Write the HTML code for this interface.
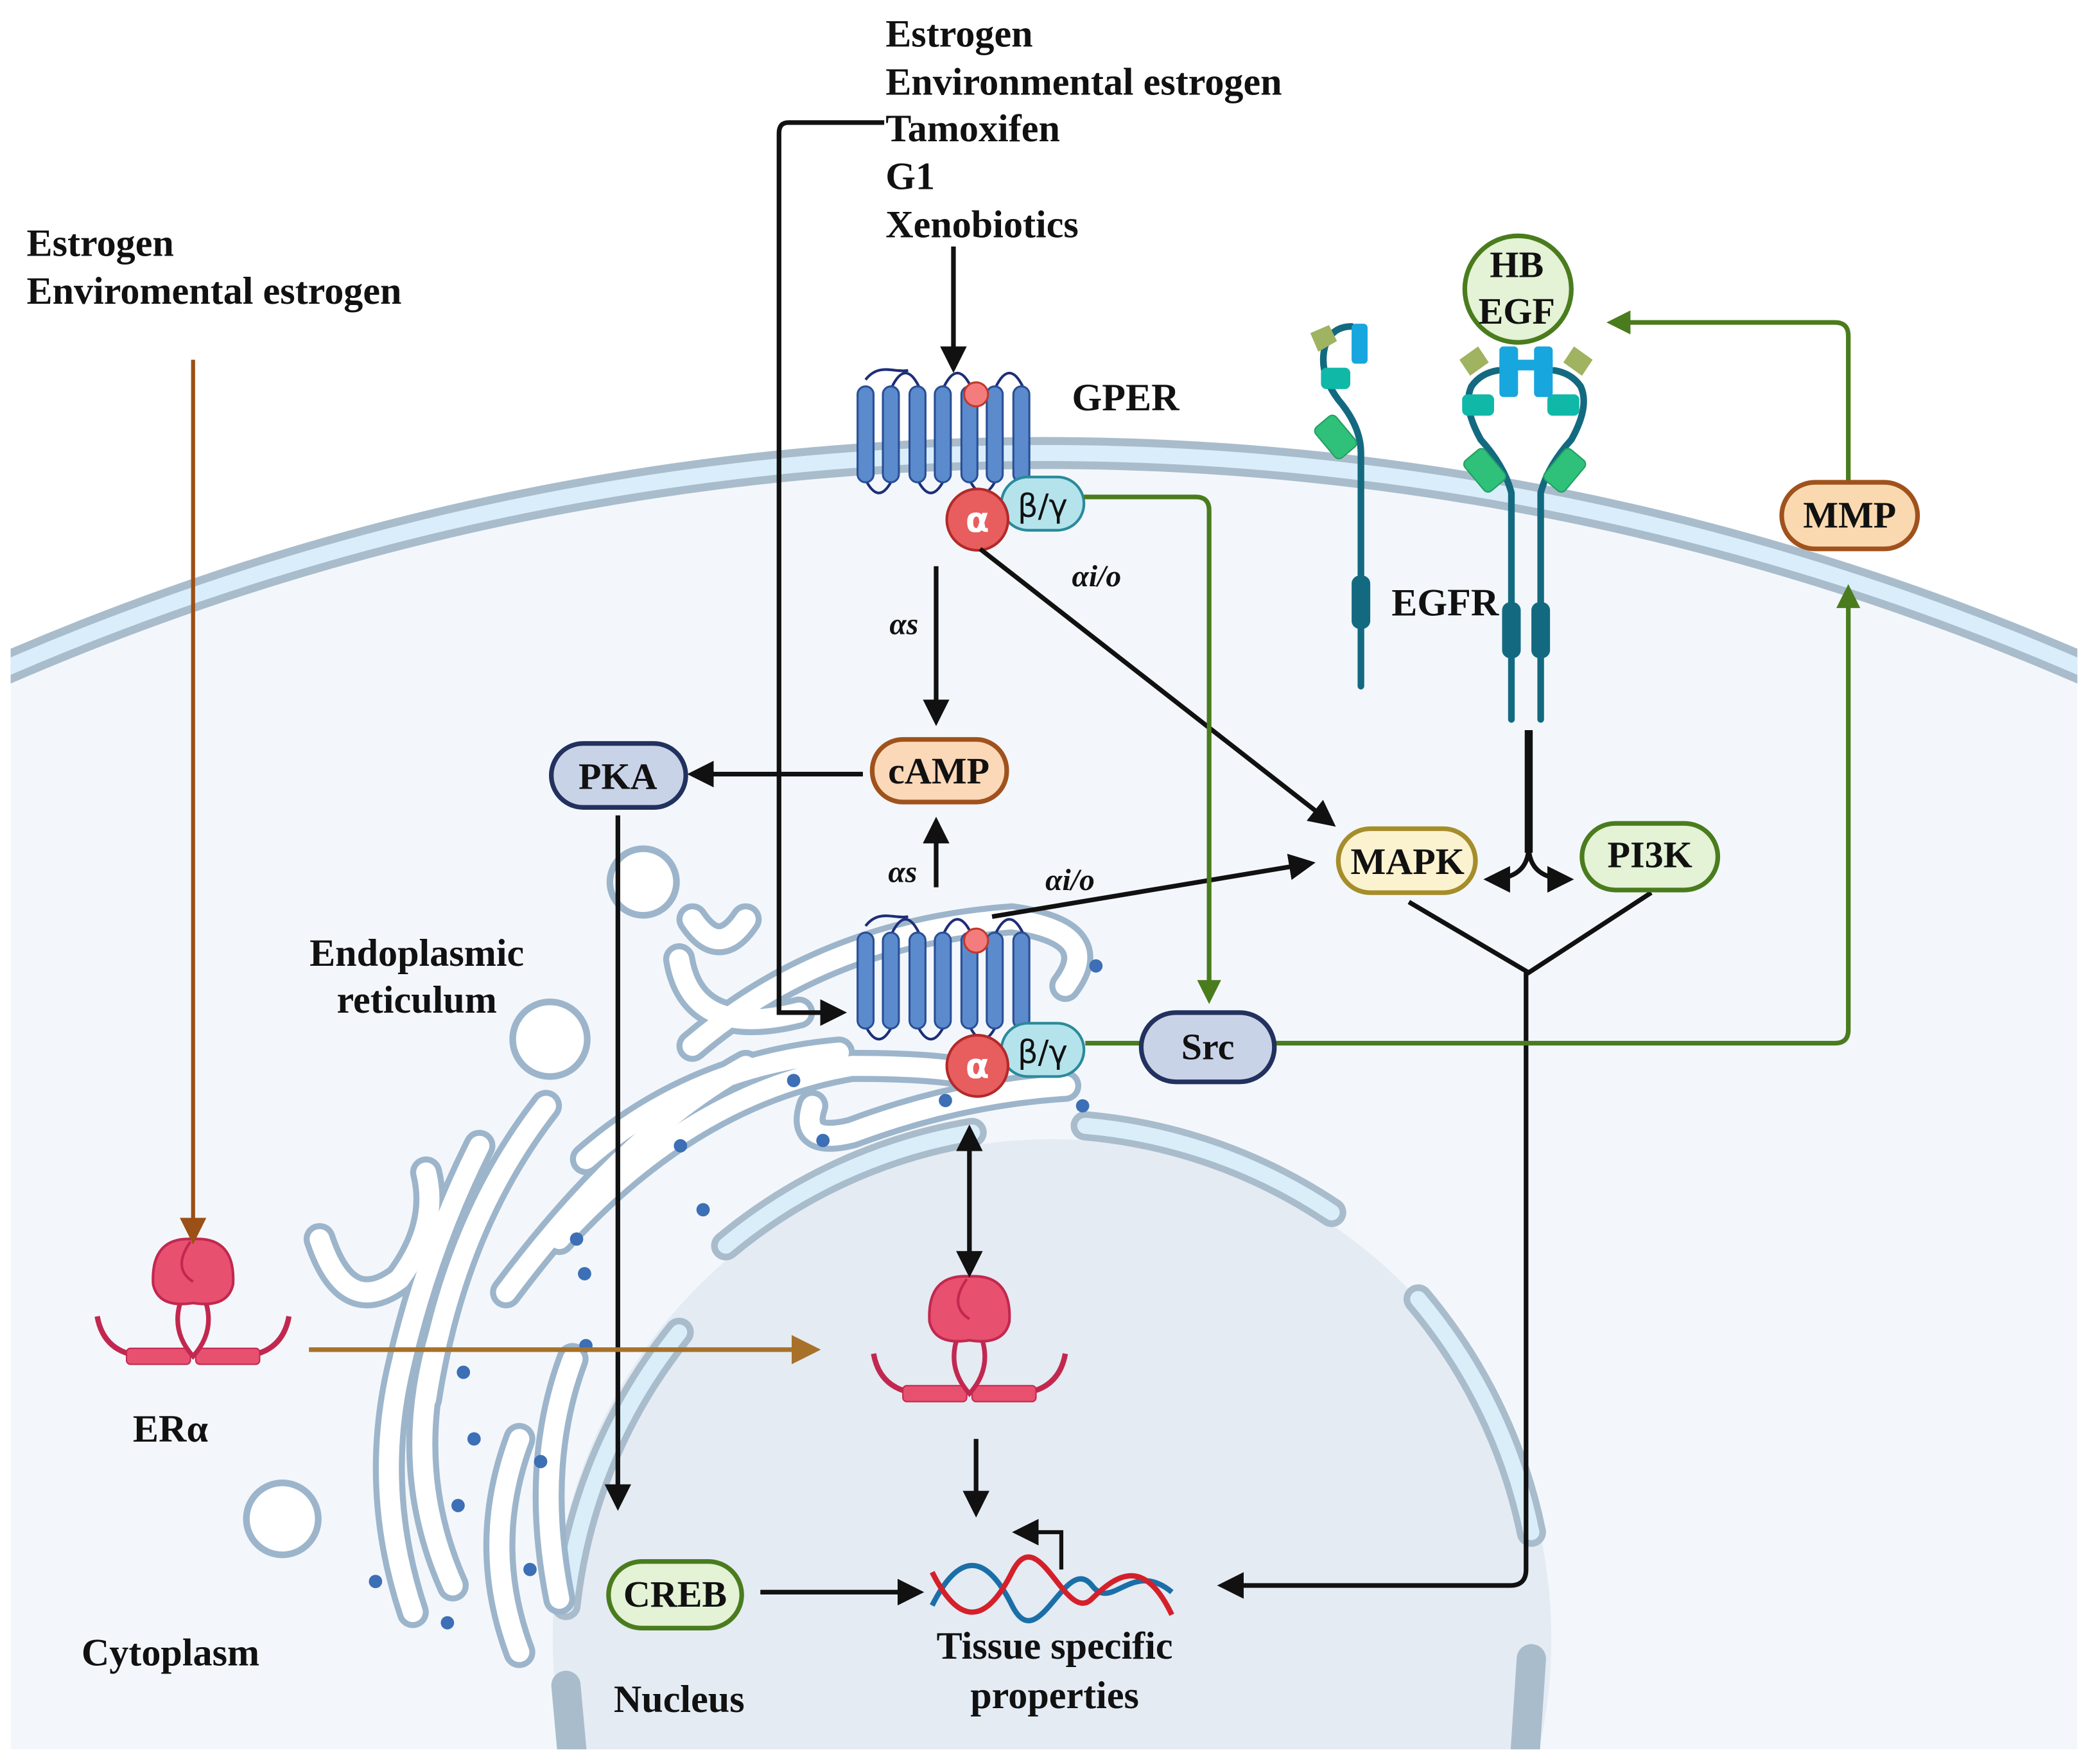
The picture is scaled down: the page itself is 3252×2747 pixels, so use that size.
<!DOCTYPE html>
<html><head><meta charset="utf-8"><style>
html,body{margin:0;padding:0;background:#fff;width:3252px;height:2747px;overflow:hidden}
svg{display:block}
text{font-family:"Liberation Serif",serif;fill:#111}
</style></head><body>
<svg width="3252" height="2747" viewBox="0 0 1568 1324" preserveAspectRatio="none" xmlns="http://www.w3.org/2000/svg">
<defs>
<clipPath id="cl"><rect x="8" y="0" width="1552" height="1313"/></clipPath>
<marker id="a" viewBox="0 0 10 10" refX="8" refY="5" markerWidth="20" markerHeight="20" orient="auto-start-reverse" markerUnits="userSpaceOnUse"><path d="M0,0L10,5L0,10z" fill="#111"/></marker>
<marker id="ag" viewBox="0 0 10 10" refX="8" refY="5" markerWidth="18" markerHeight="18" orient="auto" markerUnits="userSpaceOnUse"><path d="M0,0L10,5L0,10z" fill="#4a7c1e"/></marker>
<marker id="ab" viewBox="0 0 10 10" refX="8" refY="5" markerWidth="20" markerHeight="20" orient="auto" markerUnits="userSpaceOnUse"><path d="M0,0L10,5L0,10z" fill="#9c4f16"/></marker>
<marker id="ao" viewBox="0 0 10 10" refX="8" refY="5" markerWidth="22" markerHeight="22" orient="auto" markerUnits="userSpaceOnUse"><path d="M0,0L10,5L0,10z" fill="#a8712a"/></marker>
<g id="gper">
 <path d="M650,285 C660,272 672,280 682,278" fill="none" stroke="#1d2e78" stroke-width="2"/>
 <path d="M650,360 q10,20 20,0 M689,360 q10,20 20,0 M728,360 q10,20 20,0 M670,290 q10,-20 20,0 M709,290 q10,-20 20,0 M748,290 q10,-20 20,0" fill="none" stroke="#1d2e78" stroke-width="2"/>
 <g fill="#5b8bcc" stroke="#2a4f96" stroke-width="1.5">
  <rect x="644" y="290" width="12" height="72" rx="6"/><rect x="663" y="290" width="12" height="72" rx="6"/><rect x="683" y="290" width="12" height="72" rx="6"/><rect x="702" y="290" width="12" height="72" rx="6"/><rect x="722" y="290" width="12" height="72" rx="6"/><rect x="741" y="290" width="12" height="72" rx="6"/><rect x="761" y="290" width="12" height="72" rx="6"/>
 </g>
 <circle cx="733" cy="296" r="9" fill="#f47c7c" stroke="#c0392b" stroke-width="1.5"/>
 <rect x="752" y="358" width="62" height="40" rx="20" fill="#b4e3ec" stroke="#2a8a9a" stroke-width="2"/>
 <text x="783" y="388" font-size="24" text-anchor="middle" style="font-family:'DejaVu Sans',sans-serif">β/γ</text>
 <circle cx="734" cy="390" r="23" fill="#e85d5d" stroke="#b22a2a" stroke-width="2"/>
 <text x="734" y="399" font-size="26" text-anchor="middle" style="fill:#fff;font-family:'DejaVu Sans',sans-serif;font-weight:bold">α</text>
</g>
<g id="era">
 <path d="M-72,0 q5,28 35,30 M72,0 q-5,28 -35,30" fill="none" stroke="#c2284f" stroke-width="4"/>
 <rect x="-50" y="24" width="48" height="12" rx="3" fill="#e8506f" stroke="#c2284f"/>
 <rect x="2" y="24" width="48" height="12" rx="3" fill="#e8506f" stroke="#c2284f"/>
 <path d="M-8,-15 q-10,25 8,45 q18,-20 8,-45" fill="none" stroke="#c2284f" stroke-width="3.5"/>
 <path d="M-30,-24 q-2,-36 30,-34 q32,-2 30,34 q-4,18 -30,14 q-26,4 -30,-14z" fill="#e8506f" stroke="#c2284f" stroke-width="2"/>
 <path d="M-2,-56 q-14,20 2,30" fill="none" stroke="#c2284f" stroke-width="2"/>
</g>
</defs>

<g clip-path="url(#cl)">
 <circle cx="784" cy="2302" r="1962" fill="#f3f7fb"/>
 <circle cx="784" cy="2302" r="1962" fill="none" stroke="#a9bccb" stroke-width="24"/>
 <circle cx="784" cy="2302" r="1962" fill="none" stroke="#d9eefa" stroke-width="12"/>
 <circle cx="790" cy="1230" r="375" fill="#e4ebf3"/>
 <g fill="none" stroke-linecap="round">
  <path d="M545,935 A390,390 0 0 1 730,850" stroke="#a9bccb" stroke-width="22"/>
  <path d="M545,935 A390,390 0 0 1 730,850" stroke="#daeefa" stroke-width="12"/>
  <path d="M815,845 A395,395 0 0 1 1000,910" stroke="#a9bccb" stroke-width="22"/>
  <path d="M815,845 A395,395 0 0 1 1000,910" stroke="#daeefa" stroke-width="12"/>
  <path d="M1065,975 A395,395 0 0 1 1150,1150" stroke="#a9bccb" stroke-width="22"/>
  <path d="M1065,975 A395,395 0 0 1 1150,1150" stroke="#daeefa" stroke-width="12"/>
  <path d="M510,1000 A395,395 0 0 0 425,1205" stroke="#a9bccb" stroke-width="22"/>
  <path d="M510,1000 A395,395 0 0 0 425,1205" stroke="#daeefa" stroke-width="12"/>
  <path d="M425,1265 L430,1320" stroke="#a9bccb" stroke-width="22"/>
  <path d="M1150,1245 L1145,1320" stroke="#a9bccb" stroke-width="22"/>
 </g>
 <g fill="none" stroke-linecap="round">
  <g stroke="#9db5cb" stroke-width="24">
   <path d="M520,785 Q620,700 760,690 Q830,700 800,740"/>
   <path d="M440,870 Q520,800 630,790"/>
   <path d="M420,930 Q520,820 640,800 Q720,800 740,810"/>
   <path d="M380,970 Q470,850 560,800"/>
   <path d="M330,1000 Q300,1100 340,1190"/>
   <path d="M360,860 Q320,940 300,1030 Q280,1120 310,1210"/>
   <path d="M410,830 Q340,920 320,1050"/>
   <path d="M390,1080 Q360,1160 390,1240"/>
   <path d="M430,1020 Q400,1100 420,1200"/>
   <path d="M240,930 Q260,990 300,960 Q330,920 320,880"/>
   <path d="M560,690 Q540,720 520,690"/>
   <path d="M510,720 Q520,780 600,760"/>
   <path d="M610,830 Q600,860 640,850 Q720,820 800,815"/>
  </g>
  <g stroke="#ffffff" stroke-width="15">
   <path d="M520,785 Q620,700 760,690 Q830,700 800,740"/>
   <path d="M440,870 Q520,800 630,790"/>
   <path d="M420,930 Q520,820 640,800 Q720,800 740,810"/>
   <path d="M380,970 Q470,850 560,800"/>
   <path d="M330,1000 Q300,1100 340,1190"/>
   <path d="M360,860 Q320,940 300,1030 Q280,1120 310,1210"/>
   <path d="M410,830 Q340,920 320,1050"/>
   <path d="M390,1080 Q360,1160 390,1240"/>
   <path d="M430,1020 Q400,1100 420,1200"/>
   <path d="M240,930 Q260,990 300,960 Q330,920 320,880"/>
   <path d="M560,690 Q540,720 520,690"/>
   <path d="M510,720 Q520,780 600,760"/>
   <path d="M610,830 Q600,860 640,850 Q720,820 800,815"/>
  </g>
 </g>
 <g fill="#fff" stroke="#9db5cb" stroke-width="5">
  <circle cx="483" cy="662" r="25"/><circle cx="413" cy="780" r="28"/><circle cx="212" cy="1140" r="27"/>
 </g>
 <g fill="#3c6fb5">
  <circle cx="823" cy="725" r="5"/><circle cx="710" cy="826" r="5"/><circle cx="813" cy="830" r="5"/><circle cx="596" cy="811" r="5"/><circle cx="618" cy="856" r="5"/><circle cx="511" cy="860" r="5"/><circle cx="528" cy="908" r="5"/><circle cx="433" cy="930" r="5"/><circle cx="439" cy="956" r="5"/><circle cx="440" cy="1010" r="5"/><circle cx="348" cy="1030" r="5"/><circle cx="356" cy="1080" r="5"/><circle cx="406" cy="1097" r="5"/><circle cx="344" cy="1130" r="5"/><circle cx="398" cy="1178" r="5"/><circle cx="282" cy="1187" r="5"/><circle cx="336" cy="1218" r="5"/>
 </g>
</g>

<g font-size="29" font-weight="bold">
 <text x="665" y="35">Estrogen</text>
 <text x="665" y="71">Environmental estrogen</text>
 <text x="665" y="106">Tamoxifen</text>
 <text x="665" y="142">G1</text>
 <text x="665" y="178">Xenobiotics</text>
 <text x="20" y="192">Estrogen</text>
 <text x="20" y="228">Enviromental estrogen</text>
 <text x="805" y="308">GPER</text>
 <text x="1045" y="462">EGFR</text>
 <text x="313" y="725" text-anchor="middle">Endoplasmic</text>
 <text x="313" y="760" text-anchor="middle">reticulum</text>
 <text x="128" y="1082" text-anchor="middle">ERα</text>
 <text x="128" y="1250" text-anchor="middle">Cytoplasm</text>
 <text x="510" y="1285" text-anchor="middle">Nucleus</text>
 <text x="792" y="1245" text-anchor="middle">Tissue specific</text>
 <text x="792" y="1282" text-anchor="middle">properties</text>
</g>
<g font-size="23" font-style="italic" font-weight="bold">
 <text x="668" y="476">αs</text>
 <text x="805" y="440">αi/o</text>
 <text x="667" y="662">αs</text>
 <text x="785" y="668">αi/o</text>
</g>

<g fill="none" stroke="#136a80" stroke-width="5" stroke-linecap="round">
 <path d="M1022,515 L1022,340 Q1022,320 1005,300 Q990,280 995,260 Q1000,245 1015,245"/>
 <path d="M1135,540 L1135,370 Q1130,350 1112,330 Q1098,305 1105,290 Q1112,280 1125,278"/>
 <path d="M1157,540 L1157,370 Q1162,350 1180,330 Q1194,305 1187,290 Q1180,280 1167,278"/>
</g>
<g fill="#136a80"><rect x="1015" y="432" width="14" height="40" rx="6"/><rect x="1128" y="452" width="14" height="42" rx="6"/><rect x="1150" y="452" width="14" height="42" rx="6"/></g>
<g fill="#2fc07a" stroke="#22a060" stroke-width="1">
 <rect x="993" y="313" width="20" height="30" rx="4" transform="rotate(-40 1003 328)"/>
 <rect x="1105" y="338" width="20" height="30" rx="4" transform="rotate(-40 1115 353)"/>
 <rect x="1165" y="338" width="20" height="30" rx="4" transform="rotate(40 1175 353)"/>
</g>
<g fill="#10b8a8"><rect x="992" y="276" width="22" height="16" rx="4"/><rect x="1098" y="296" width="24" height="16" rx="4"/><rect x="1162" y="296" width="24" height="16" rx="4"/></g>
<g fill="#17a6dd"><rect x="1015" y="243" width="12" height="30" rx="3"/><rect x="1126" y="260" width="14" height="38" rx="3"/><rect x="1152" y="260" width="14" height="38" rx="3"/><rect x="1126" y="270" width="40" height="8"/></g>
<g fill="#9fb360"><path d="M984,250 l14,-6 l6,12 l-14,8z"/><path d="M1096,270 l14,-10 l8,12 l-14,10z"/><path d="M1196,270 l-14,-10 l-8,12 l14,10z"/></g>

<use href="#gper"/>
<use href="#gper" transform="translate(0,410)"/>

<use href="#era" transform="translate(145,988)"/>
<use href="#era" transform="translate(728,1016)"/>

<g fill="none" stroke="#111" stroke-width="3.5">
 <path d="M664,92 L592,92 Q585,92 585,100 L585,760 L632,760" marker-end="url(#a)"/>
 <path d="M716,185 L716,276" marker-end="url(#a)"/>
 <path d="M703,425 L703,541" marker-end="url(#a)"/>
 <path d="M736,412 L1000,618" marker-end="url(#a)"/>
 <path d="M648,581 L520,581" marker-end="url(#a)"/>
 <path d="M703,666 L703,617" marker-end="url(#a)"/>
 <path d="M745,688 L984,648" marker-end="url(#a)"/>
 <path d="M464,612 L464,1130" marker-end="url(#a)"/>
 <path d="M728,848 L728,955" marker-end="url(#a)" marker-start="url(#a)"/>
 <path d="M733,1080 L733,1135" marker-end="url(#a)"/>
 <path d="M571,1195 L690,1195" marker-end="url(#a)"/>
 <path d="M1058,677 L1148,730 L1240,670 M1146,730 L1146,1178 Q1146,1190 1134,1190 L918,1190" marker-end="url(#a)"/>
 <path d="M1148,548 L1148,640" stroke-width="6"/>
 <path d="M1148,635 Q1148,660 1118,660" marker-end="url(#a)"/>
 <path d="M1148,635 Q1148,660 1178,660" marker-end="url(#a)"/>
 <path d="M797,1178 L797,1150 L764,1150" stroke-width="3" marker-end="url(#a)"/>
</g>
<g fill="none" stroke="#4a7c1e" stroke-width="3.5">
 <path d="M814,373 L898,373 Q908,373 908,383 L908,750" marker-end="url(#ag)"/>
 <path d="M815,783 L857,783 M957,783 L1378,783 Q1388,783 1388,773 L1388,442" marker-end="url(#ag)"/>
 <path d="M1388,362 L1388,252 Q1388,242 1378,242 L1210,242" marker-end="url(#ag)"/>
</g>
<path d="M145,270 L145,930" stroke="#9c4f16" stroke-width="3" fill="none" marker-end="url(#ab)"/>
<path d="M232,1013 L612,1013" stroke="#a8712a" stroke-width="3.5" fill="none" marker-end="url(#ao)"/>

<g fill="none" stroke-width="4">
 <path d="M700,1205 C720,1165 740,1165 760,1205 C780,1245 800,1165 820,1190 C835,1210 850,1170 880,1195" stroke="#1b6fa8"/>
 <path d="M700,1180 C720,1220 740,1220 760,1180 C780,1140 800,1220 820,1200 C840,1180 860,1170 880,1212" stroke="#d4202a"/>
</g>

<g stroke-width="3.5">
 <rect x="655" y="555" width="101" height="47" rx="23" fill="#fbd8b8" stroke="#a0521d"/>
 <rect x="414" y="558" width="101" height="48" rx="24" fill="#c9d3e8" stroke="#22315e"/>
 <rect x="1005" y="622" width="103" height="48" rx="24" fill="#fbf3d0" stroke="#a58d2a"/>
 <rect x="1188" y="618" width="102" height="50" rx="25" fill="#e4f2d5" stroke="#4a7c1e"/>
 <rect x="857" y="760" width="100" height="52" rx="26" fill="#c9d3e8" stroke="#22315e"/>
 <rect x="1338" y="362" width="102" height="50" rx="25" fill="#fad9b0" stroke="#a0521d"/>
 <rect x="457" y="1172" width="100" height="50" rx="25" fill="#e4f2d5" stroke="#4a7c1e"/>
 <circle cx="1140" cy="217" r="40" fill="#e4f2d5" stroke="#4a7c1e"/>
</g>
<g font-size="28" font-weight="bold" text-anchor="middle">
 <text x="705" y="588">cAMP</text>
 <text x="464" y="592">PKA</text>
 <text x="1057" y="656">MAPK</text>
 <text x="1239" y="651">PI3K</text>
 <text x="907" y="795">Src</text>
 <text x="1389" y="396">MMP</text>
 <text x="507" y="1206">CREB</text>
 <text x="1139" y="208">HB</text>
 <text x="1139" y="243">EGF</text>
</g>
</svg>
</body></html>
